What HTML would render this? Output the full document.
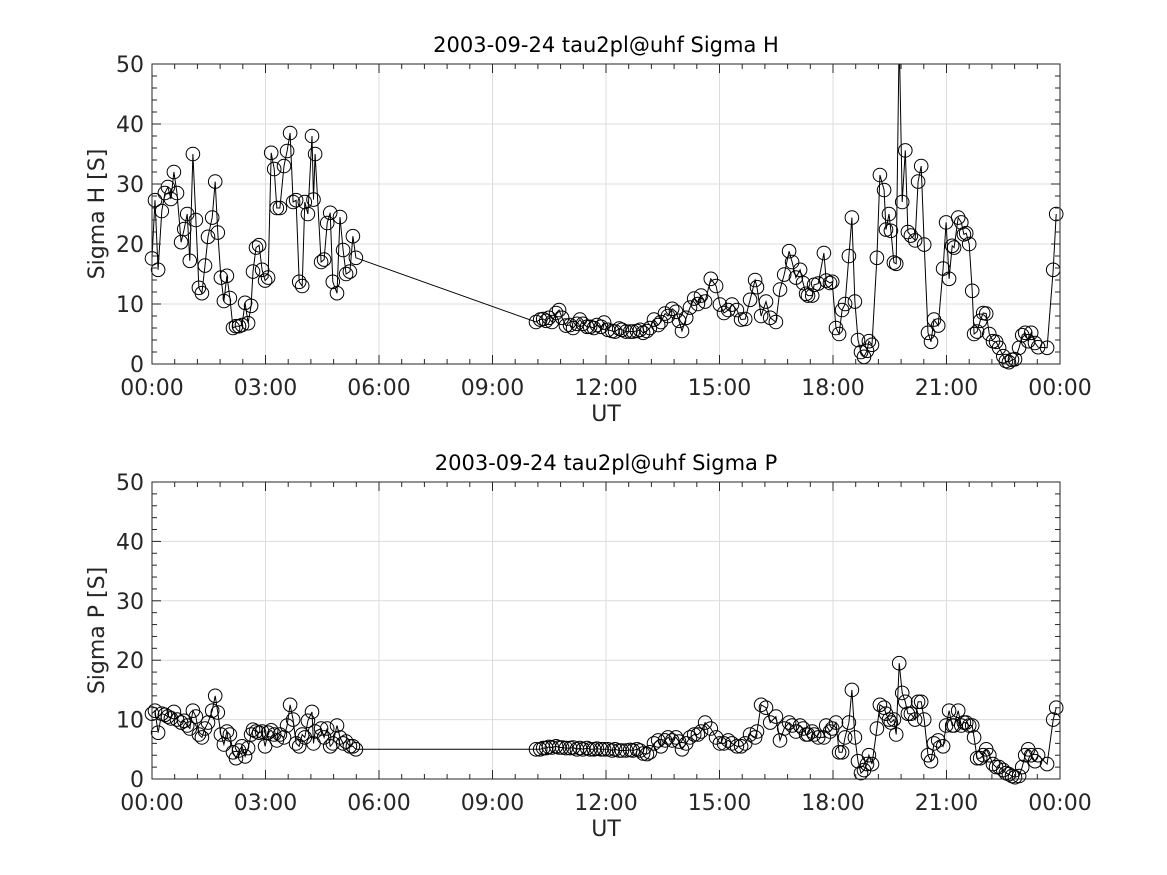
<!DOCTYPE html>
<html><head><meta charset="utf-8"><style>
html,body{margin:0;padding:0;background:#fff;}
svg{display:block;font-family:"DejaVu Sans","Liberation Sans",sans-serif;}
</style></head><body>
<svg id="fig" width="1167" height="875" viewBox="0 0 1167 875" xmlns="http://www.w3.org/2000/svg"></svg>
<script>
const times = [
0,.08,.16,.26,.34,.42,.5,.58,.66,.77,
.85,.93,1.0,1.08,1.16,1.24,1.32,1.4,1.48,1.59,
1.67,1.74,1.82,1.9,1.98,2.06,2.14,2.22,2.3,2.38,
2.46,2.54,2.62,2.67,2.75,2.83,2.91,2.99,3.07,3.15,
3.23,3.3,3.38,3.49,3.57,3.65,3.73,3.81,3.89,3.97,
4.04,4.12,4.23,4.27,4.31,4.47,4.55,4.63,4.71,4.78,
4.89,4.97,5.05,5.13,5.23,5.31,5.39,
10.15,10.26,10.34,10.42,10.49,10.57,10.68,10.76,10.84,10.94,
11.05,11.13,11.23,11.31,11.39,11.5,11.58,11.68,11.76,11.87,
11.95,12.05,12.16,12.24,12.35,12.42,12.53,12.64,12.71,12.82,
12.9,12.98,13.08,13.16,13.27,13.38,13.45,13.56,13.64,13.75,
13.85,13.93,14.01,14.12,14.22,14.33,14.43,14.51,14.62,14.77,
14.91,15.01,15.12,15.23,15.33,15.46,15.57,15.68,15.81,15.94,
15.99,16.1,16.23,16.34,16.49,16.6,16.71,16.84,16.92,17.02,
17.13,17.21,17.29,17.34,17.45,17.5,17.61,17.76,17.82,17.92,
17.98,18.08,18.16,18.24,18.32,18.42,18.5,18.58,18.66,18.74,
18.82,18.9,18.95,19.03,19.16,19.24,19.35,19.4,19.48,19.53,
19.61,19.67,19.75,19.83,19.91,19.98,20.06,20.17,20.25,20.33,
20.41,20.51,20.59,20.67,20.78,20.91,20.99,21.07,21.15,21.2,
21.31,21.39,21.46,21.52,21.6,21.68,21.73,21.81,21.89,21.97,
22.05,22.13,22.23,22.31,22.39,22.5,22.57,22.65,22.73,22.81,
22.92,23.0,23.08,23.16,23.24,23.34,23.42,23.66,23.82,23.9];
const sigmaH = [
17.6,27.3,15.7,25.5,28.5,29.5,27.5,32,28.5,20.3,
22.5,25,17.2,35,24,12.7,11.8,16.4,21.2,24.4,
30.4,21.9,14.4,10.5,14.7,11,6,6.3,6.3,6.5,
10.2,6.8,9.7,15.4,19.4,19.8,15.7,13.9,14.4,35.2,
32.5,26,26,33,35.5,38.5,27,27.3,13.7,13,
27,25,38,27.4,35,17,17.4,23.5,25.2,13.7,
11.8,24.5,19,15,15.4,21.3,17.7,
7,7.4,7.5,7.2,7.7,7,8.5,9,7.7,6.4,
6.5,6,6.7,7.4,6.7,6.2,6.2,6,6.5,6.2,
6.9,5.7,5.5,5.4,5.9,5.7,5.4,5.4,5.4,5.5,
5.7,5.2,5.5,6,7.4,6.5,7,8.4,8,9.2,
8.7,7.2,5.5,7.7,9.4,10.9,10,11.4,10.4,14.2,
13,9.9,8.5,9,9.9,9,7.4,7.5,10.7,14,
12.8,8,10.4,7.7,7,12.4,14.9,18.8,17,14.4,
15.7,13.5,11.7,11.4,11.4,13.2,13.4,18.5,13.9,13.5,
13.7,6,5,9,10,18,24.4,10.4,4,2,
1.2,2.2,3.8,3.2,17.7,31.5,29,22.4,25,22.2,
16.9,16.7,55,27,35.6,22,21.4,20.6,30.4,33,
19.9,5.2,3.7,7.4,6.4,15.9,23.6,14.2,19.7,19.4,
24.4,23.6,21.6,21.8,20,12.2,5,5.4,7.2,8.5,
8.4,5,3.8,3.7,2.7,1.3,0.5,0.3,0.7,0.8,
2.7,4.8,5.2,3.8,5.2,3.5,2.8,2.7,15.7,25];
const sigmaP = [
11,11.5,7.8,11,10.8,10.5,10.2,11.3,10,9.5,
9.8,9,8.5,11.5,10.5,7.5,7,8.5,9.5,11.5,
14,11.2,7.5,5.8,8,7.5,4.5,3.5,4.8,5.5,
3.8,5.2,7.5,8.3,8,7.8,8,5.5,7.8,8.2,
7.5,6.5,7.5,7,9,12.5,10,6,5.5,7.5,
7,9.8,11.3,6,8,8.5,7,8.5,5.5,6,
9,7,6,6.3,5.5,5.5,5,
5,5,5.2,5.2,5.4,5.3,5.5,5.3,5.3,5.2,
5.2,5.3,5,5.2,5,5.2,5,5,5.1,5,
5,5,4.8,5,4.8,4.8,4.8,4.9,4.8,5,
4.8,4.3,4.2,4.5,6,6.5,5.5,6.5,7,6.5,
7,6.3,5,6,7,7.5,7.5,8,9.5,8.5,
7,6,6,6.5,6,5.5,5.5,6,7.5,7,
8,12.5,12,9.5,10.5,6.5,8.5,9.5,9,8,
9,8.5,7.5,7.5,8,7.5,7,7,9,8,
8.5,9.5,4.5,4.5,7,9.5,15,7,3,1,
1.5,2.5,4,2.5,8.5,12.5,12,11,10,9.5,
10,7.5,19.5,14.5,13,11,11,10,13,13,
10,4,3,6,6.5,5.5,9,11.5,9,9,
11.5,9,9.5,9.5,9,9,7,3.5,3.5,4,
5,4,2.5,2,2,1.5,1,0.8,0.5,0.3,
0.5,2,4,5,4,3,4,2.5,10,12];
const xTickLabels = ["00:00","03:00","06:00","09:00","12:00","15:00","18:00","21:00","00:00"];
const yTickLabels = ["0","10","20","30","40","50"];

const NS="http://www.w3.org/2000/svg";
const fig=document.getElementById('fig');
function mk(tag,attrs,parent){const e=document.createElementNS(NS,tag);for(const k in attrs)e.setAttribute(k,attrs[k]);(parent||fig).appendChild(e);return e;}

function drawPanel(name, top, bottom, title, ylabel, values){
  const L=152,R=1060;
  const g=mk('g',{});
  
  
  const xs=h=>L+(h/24)*(R-L);
  const ys=v=>bottom-(v/50)*(bottom-top);
  for(let i=1;i<8;i++){const x=xs(i*3);const l=mk('line',{x1:x,x2:x,y1:top,y2:bottom,stroke:'#dcdcdc','stroke-width':1},g);
    }
  for(let i=1;i<5;i++){const y=ys(i*10);const l=mk('line',{x1:L,x2:R,y1:y,y2:y,stroke:'#dcdcdc','stroke-width':1},g);
    }
  const cid='clip-'+name;
  const cp=mk('clipPath',{id:cid},g);mk('rect',{x:L-12,y:top,width:R-L+24,height:bottom-top+12},cp);
  const dg=mk('g',{'clip-path':'url(#'+cid+')'},g);
  const n=Math.min(times.length,values.length);
  let d='';
  for(let i=0;i<n;i++){d+=(i?'L':'M')+xs(times[i]).toFixed(1)+','+ys(values[i]).toFixed(1);}
  const pl=mk('path',{d:d,fill:'none',stroke:'#000','stroke-width':1},dg);
  
  for(let i=0;i<n;i++){
    const c=mk('circle',{cx:xs(times[i]).toFixed(1),cy:ys(values[i]).toFixed(1),r:6.8,fill:'none',stroke:'#000','stroke-width':1},dg);
    
    
  }
  const bx=mk('rect',{x:L,y:top,width:R-L,height:bottom-top,fill:'none',stroke:'#262626','stroke-width':1},g);
  
  for(let i=0;i<=40;i++){const h=i*0.6;const x=xs(h);const len=(i%5===0)?9:5;
    mk('line',{x1:x,x2:x,y1:bottom,y2:bottom-len,stroke:'#262626'},g);
    mk('line',{x1:x,x2:x,y1:top,y2:top+len,stroke:'#262626'},g);}
  for(let i=0;i<=25;i++){const v=i*2;const y=ys(v);const len=(i%5===0)?9:5;
    mk('line',{x1:L,x2:L+len,y1:y,y2:y,stroke:'#262626'},g);
    mk('line',{x1:R,x2:R-len,y1:y,y2:y,stroke:'#262626'},g);}
  xTickLabels.forEach((s,i)=>{const t=mk('text',{x:xs(i*3),y:bottom+31,'text-anchor':'middle','font-size':22,fill:'#262626'},g);t.textContent=s;
    });
  yTickLabels.forEach((s,i)=>{const t=mk('text',{x:L-8,y:ys(i*10)+8,'text-anchor':'end','font-size':22,fill:'#262626'},g);t.textContent=s;
    });
  const tt=mk('text',{x:(L+R)/2,y:top-12,'text-anchor':'middle','font-size':21,fill:'#000'},g);tt.textContent=title;
  
  const xl=mk('text',{x:(L+R)/2,y:bottom+57,'text-anchor':'middle','font-size':22,fill:'#262626'},g);xl.textContent='UT';
  
  const cy=(top+bottom)/2;
  const yl=mk('text',{x:104,y:cy,'text-anchor':'middle','font-size':22,fill:'#262626',transform:'rotate(-90 104 '+cy+')'},g);yl.textContent=ylabel;
  
}
drawPanel('sigma-h-panel',64,364,'2003-09-24  tau2pl@uhf Sigma H','Sigma H [S]',sigmaH);
drawPanel('sigma-p-panel',482,779,'2003-09-24  tau2pl@uhf Sigma P','Sigma P [S]',sigmaP);
</script>
</body></html>
